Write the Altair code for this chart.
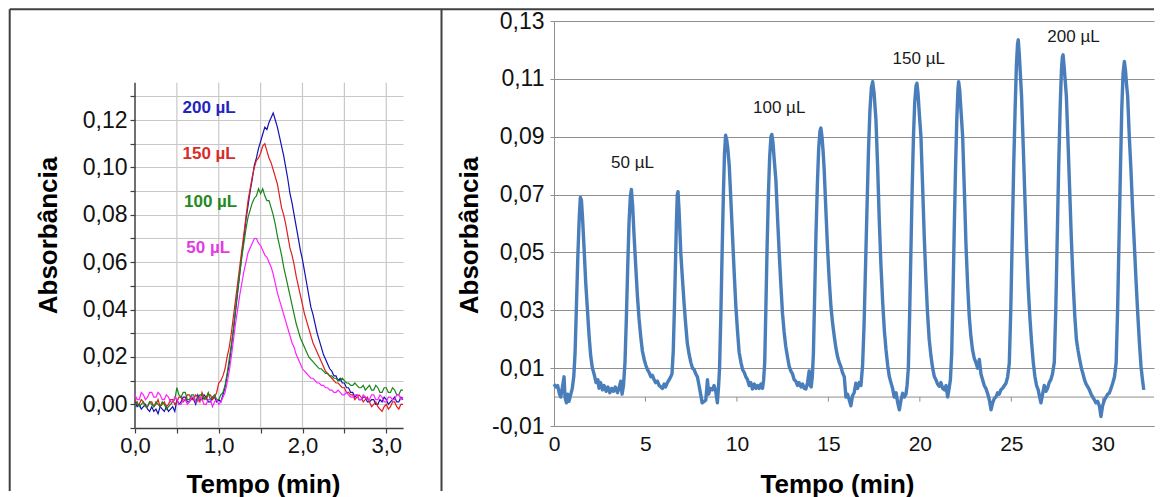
import altair as alt
import pandas as pd

FONT = "Arial"

# ---------------- Left panel: superimposed peaks ----------------
t_left = [0.000, 0.025, 0.050, 0.075, 0.100, 0.125, 0.150, 0.175,
          0.200, 0.225, 0.250, 0.275, 0.300, 0.325, 0.350, 0.375,
          0.400, 0.425, 0.450, 0.475, 0.500, 0.525, 0.550, 0.575,
          0.600, 0.625, 0.650, 0.675, 0.700, 0.725, 0.750, 0.775,
          0.800, 0.825, 0.850, 0.875, 0.900, 0.925, 0.950, 0.975,
          1.000, 1.025, 1.050, 1.075, 1.100, 1.125, 1.150, 1.175,
          1.200, 1.225, 1.250, 1.275, 1.300, 1.325, 1.350, 1.375,
          1.400, 1.425, 1.450, 1.475, 1.500, 1.525, 1.550, 1.575,
          1.600, 1.625, 1.650, 1.675, 1.700, 1.725, 1.750, 1.775,
          1.800, 1.825, 1.850, 1.875, 1.900, 1.925, 1.950, 1.975,
          2.000, 2.025, 2.050, 2.075, 2.100, 2.125, 2.150, 2.175,
          2.200, 2.225, 2.250, 2.275, 2.300, 2.325, 2.350, 2.375,
          2.400, 2.425, 2.450, 2.475, 2.500, 2.525, 2.550, 2.575,
          2.600, 2.625, 2.650, 2.675, 2.700, 2.725, 2.750, 2.775,
          2.800, 2.825, 2.850, 2.875, 2.900, 2.925, 2.950, 2.975,
          3.000, 3.025, 3.050, 3.075, 3.100, 3.125, 3.150, 3.175,
          3.200]

a_200 = [0.001, -0.001, 0.000, -0.002, -0.001, 0.000, -0.002, -0.003,
         -0.001, -0.003, -0.002, -0.004, -0.001, -0.002, -0.003, -0.001,
         -0.003, -0.002, -0.001, -0.003, 0.002, 0.000, 0.001, 0.003,
         0.003, 0.001, 0.001, 0.003, 0.002, 0.000, 0.004, 0.002,
         0.002, 0.004, 0.003, 0.001, 0.001, 0.003, 0.003, 0.001,
         0.002, 0.001, 0.004, 0.007, 0.012, 0.017, 0.024, 0.031,
         0.039, 0.047, 0.055, 0.063, 0.070, 0.078, 0.084, 0.090,
         0.095, 0.101, 0.104, 0.108, 0.111, 0.114, 0.117, 0.116,
         0.119, 0.121, 0.123, 0.120, 0.117, 0.113, 0.109, 0.105,
         0.100, 0.095, 0.089, 0.085, 0.080, 0.075, 0.070, 0.065,
         0.061, 0.056, 0.051, 0.046, 0.041, 0.038, 0.034, 0.030,
         0.027, 0.024, 0.021, 0.019, 0.017, 0.015, 0.014, 0.012,
         0.012, 0.010, 0.011, 0.009, 0.009, 0.007, 0.007, 0.005,
         0.005, 0.003, 0.004, 0.002, 0.002, 0.003, 0.003, 0.001,
         0.001, 0.002, 0.002, 0.000, 0.000, 0.002, 0.001, 0.003,
         0.002, 0.000, 0.001, 0.002, 0.003, 0.001, 0.001, 0.003,
         0.002]

a_150 = [0.002, 0.000, 0.000, 0.002, 0.001, -0.001, -0.001, 0.001,
         0.001, -0.001, 0.000, 0.002, -0.001, 0.000, 0.001, -0.001,
         0.000, 0.002, 0.002, 0.000, 0.001, 0.003, 0.003, 0.001,
         0.002, 0.004, 0.004, 0.002, 0.002, 0.004, 0.003, 0.001,
         0.005, 0.003, 0.002, 0.004, 0.004, 0.002, 0.003, 0.005,
         0.009, 0.010, 0.012, 0.015, 0.020, 0.024, 0.030, 0.037,
         0.044, 0.051, 0.058, 0.065, 0.072, 0.079, 0.086, 0.091,
         0.096, 0.100, 0.103, 0.104, 0.106, 0.109, 0.110, 0.107,
         0.104, 0.102, 0.099, 0.096, 0.093, 0.088, 0.083, 0.080,
         0.076, 0.071, 0.066, 0.063, 0.059, 0.054, 0.050, 0.046,
         0.042, 0.038, 0.035, 0.032, 0.029, 0.026, 0.024, 0.022,
         0.020, 0.018, 0.016, 0.014, 0.013, 0.012, 0.011, 0.010,
         0.009, 0.009, 0.008, 0.007, 0.007, 0.005, 0.005, 0.004,
         0.004, 0.002, 0.003, 0.004, 0.003, 0.001, 0.002, 0.003,
         0.001, -0.001, 0.000, 0.001, -0.001, -0.002, -0.003, -0.001,
         0.000, -0.002, -0.001, 0.001, 0.001, -0.001, -0.002, 0.000,
         0.000]

a_100 = [0.000, 0.001, -0.001, 0.000, 0.001, -0.001, -0.001, 0.001,
         0.000, -0.001, 0.001, 0.000, -0.001, 0.001, 0.000, -0.002,
         -0.001, 0.000, 0.001, 0.002, 0.007, 0.004, 0.003, 0.005,
         0.005, 0.002, 0.002, 0.004, 0.004, 0.001, 0.002, 0.004,
         0.004, 0.002, 0.003, 0.005, 0.002, 0.003, 0.004, 0.002,
         0.002, 0.004, 0.005, 0.008, 0.013, 0.019, 0.025, 0.032,
         0.040, 0.048, 0.055, 0.062, 0.068, 0.074, 0.079, 0.082,
         0.085, 0.087, 0.088, 0.091, 0.089, 0.091, 0.088, 0.086,
         0.086, 0.083, 0.080, 0.076, 0.071, 0.067, 0.063, 0.058,
         0.054, 0.050, 0.046, 0.042, 0.038, 0.034, 0.031, 0.028,
         0.026, 0.024, 0.022, 0.020, 0.019, 0.018, 0.017, 0.016,
         0.015, 0.015, 0.014, 0.013, 0.013, 0.012, 0.012, 0.011,
         0.011, 0.010, 0.010, 0.011, 0.010, 0.009, 0.009, 0.008,
         0.008, 0.009, 0.008, 0.007, 0.007, 0.008, 0.006, 0.007,
         0.008, 0.006, 0.006, 0.008, 0.007, 0.005, 0.005, 0.007,
         0.007, 0.005, 0.005, 0.007, 0.006, 0.004, 0.004, 0.006,
         0.006]

a_50 = [0.004, 0.002, 0.002, 0.005, 0.004, 0.002, 0.003, 0.005,
        0.005, 0.003, 0.003, 0.005, 0.004, 0.002, 0.002, 0.004,
        0.003, 0.001, 0.001, 0.003, 0.002, 0.000, 0.000, 0.002,
        0.002, 0.000, 0.001, 0.003, 0.003, 0.001, 0.001, 0.003,
        0.002, 0.000, 0.000, 0.002, 0.002, -0.001, 0.001, 0.002,
        0.000, 0.001, 0.003, 0.005, 0.009, 0.014, 0.020, 0.027,
        0.034, 0.040, 0.046, 0.051, 0.056, 0.060, 0.064, 0.066,
        0.068, 0.070, 0.070, 0.068, 0.067, 0.065, 0.063, 0.062,
        0.060, 0.058, 0.055, 0.051, 0.047, 0.044, 0.041, 0.038,
        0.035, 0.032, 0.029, 0.026, 0.024, 0.021, 0.019, 0.017,
        0.015, 0.014, 0.013, 0.012, 0.011, 0.011, 0.010, 0.009,
        0.009, 0.008, 0.008, 0.007, 0.007, 0.006, 0.006, 0.005,
        0.005, 0.006, 0.005, 0.004, 0.004, 0.005, 0.004, 0.003,
        0.003, 0.004, 0.004, 0.002, 0.002, 0.004, 0.003, 0.002,
        0.002, 0.004, 0.004, 0.002, 0.002, 0.004, 0.003, 0.001,
        0.001, 0.003, 0.003, 0.002, 0.002, 0.004, 0.004, 0.002,
        0.003]

left_series = [a_200, a_150, a_100, a_50]
left_colors = ["#1212b4", "#e01e1e", "#1a841a", "#ff22ff"]
left_labels = ["200 µL", "150 µL", "100 µL", "50 µL"]
left_label_t = [0.885, 0.885, 0.903, 0.874]
left_label_a = [0.1252, 0.1055, 0.0854, 0.0661]
left_label_colors = ["#2424c0", "#d62c2c", "#238a23", "#e23be2"]

left_tick_y = [-0.01, 0.00, 0.01, 0.02, 0.03, 0.04, 0.05, 0.06, 0.07,
               0.08, 0.09, 0.10, 0.11, 0.12, 0.13]
left_label_y = ["0.00", "0.02", "0.04", "0.06", "0.08", "0.10", "0.12"]
left_tick_x = [0.0, 0.5, 1.0, 1.5, 2.0, 2.5, 3.0]
left_grid_x = [0.5, 1.0, 1.5, 2.0, 2.5, 3.0]
left_y_top = 0.1357

# ---------------- Right panel: sequence of injections ----------------
trace = [
    (0.00, 0.0045), (0.10, 0.0035), (0.20, 0.0040), (0.30, 0.0010), (0.37, 0.0000),
    (0.45, 0.0030), (0.55, 0.0070), (0.60, 0.0000), (0.68, -0.0020), (0.75, 0.0010),
    (0.82, -0.0015), (0.92, 0.0010), (1.00, 0.0030), (1.08, 0.0070),
    # 50 uL #1
    (1.15, 0.0150), (1.22, 0.0300), (1.30, 0.0480), (1.38, 0.0620), (1.44, 0.0690),
    (1.50, 0.0680), (1.56, 0.0620), (1.64, 0.0520), (1.73, 0.0400), (1.83, 0.0300),
    (1.92, 0.0210), (2.01, 0.0140), (2.10, 0.0100), (2.19, 0.0080), (2.30, 0.0050),
    (2.40, 0.0060), (2.46, 0.0030), (2.55, 0.0050), (2.65, 0.0025), (2.74, 0.0040),
    (2.85, 0.0020), (2.95, 0.0035), (3.05, 0.0015), (3.15, 0.0030), (3.25, 0.0020),
    (3.35, 0.0035), (3.47, 0.0015), (3.55, 0.0030), (3.65, 0.0055), (3.72, 0.0010),
    (3.80, 0.0040),
    # 50 uL #2
    (3.88, 0.0120), (3.95, 0.0260), (4.03, 0.0450), (4.10, 0.0600), (4.17, 0.0690),
    (4.23, 0.0718), (4.30, 0.0660), (4.38, 0.0555), (4.47, 0.0450), (4.56, 0.0350),
    (4.65, 0.0270), (4.74, 0.0210), (4.83, 0.0160), (4.93, 0.0130), (5.02, 0.0110),
    (5.11, 0.0095), (5.20, 0.0085), (5.30, 0.0070), (5.38, 0.0075), (5.47, 0.0060),
    (5.56, 0.0050), (5.65, 0.0055), (5.75, 0.0040), (5.84, 0.0035), (5.93, 0.0030),
    (6.02, 0.0045), (6.10, 0.0035), (6.20, 0.0050), (6.30, 0.0060), (6.38, 0.0070),
    (6.45, 0.0080),
    # 50 uL #3
    (6.52, 0.0160), (6.58, 0.0300), (6.64, 0.0460), (6.69, 0.0600), (6.74, 0.0700),
    (6.78, 0.0710), (6.84, 0.0640), (6.93, 0.0500), (7.02, 0.0410), (7.11, 0.0325),
    (7.20, 0.0250), (7.29, 0.0185), (7.38, 0.0150), (7.48, 0.0120), (7.57, 0.0100),
    (7.66, 0.0095), (7.75, 0.0080), (7.84, 0.0070), (7.93, 0.0040), (8.03, 0.0005),
    (8.10, -0.0020), (8.21, -0.0015), (8.30, -0.0010), (8.39, 0.0060), (8.45, 0.0010),
    (8.55, 0.0030), (8.66, 0.0025), (8.75, 0.0040), (8.84, 0.0020), (8.93, -0.0020),
    (9.00, 0.0040),
    # 100 uL #1
    (9.05, 0.0100), (9.12, 0.0280), (9.19, 0.0500), (9.26, 0.0700), (9.32, 0.0840),
    (9.38, 0.0905), (9.44, 0.0890), (9.50, 0.0860), (9.58, 0.0800), (9.67, 0.0680),
    (9.76, 0.0555), (9.85, 0.0430), (9.94, 0.0315), (10.03, 0.0230), (10.12, 0.0155),
    (10.22, 0.0120), (10.31, 0.0095), (10.40, 0.0085), (10.49, 0.0070), (10.58, 0.0060),
    (10.67, 0.0040), (10.76, 0.0050), (10.85, 0.0028), (10.95, 0.0045), (11.04, 0.0030),
    (11.13, 0.0040), (11.22, 0.0030), (11.31, 0.0045), (11.40, 0.0030), (11.46, 0.0060),
    # 100 uL #2
    (11.52, 0.0120), (11.58, 0.0300), (11.65, 0.0520), (11.72, 0.0700), (11.79, 0.0830),
    (11.86, 0.0900), (11.91, 0.0908), (11.97, 0.0880), (12.04, 0.0820), (12.13, 0.0750),
    (12.22, 0.0620), (12.31, 0.0500), (12.40, 0.0390), (12.49, 0.0290), (12.58, 0.0225),
    (12.67, 0.0175), (12.76, 0.0140), (12.86, 0.0105), (12.95, 0.0090), (13.04, 0.0080),
    (13.13, 0.0060), (13.22, 0.0055), (13.31, 0.0040), (13.40, 0.0050), (13.50, 0.0035),
    (13.59, 0.0045), (13.68, 0.0030), (13.77, 0.0028), (13.86, 0.0050), (13.95, 0.0090),
    (14.00, 0.0040), (14.06, 0.0035), (14.12, 0.0070),
    # 100 uL #3
    (14.18, 0.0150), (14.25, 0.0350), (14.32, 0.0560), (14.40, 0.0740), (14.47, 0.0860),
    (14.54, 0.0920), (14.59, 0.0930), (14.65, 0.0900), (14.71, 0.0850), (14.77, 0.0786),
    (14.86, 0.0650), (14.95, 0.0520), (15.04, 0.0410), (15.14, 0.0313), (15.23, 0.0255),
    (15.32, 0.0210), (15.41, 0.0170), (15.50, 0.0140), (15.59, 0.0120), (15.68, 0.0106),
    (15.77, 0.0085), (15.87, 0.0070), (15.92, 0.0030), (15.96, 0.0000), (16.05, 0.0010),
    (16.14, -0.0010), (16.23, -0.0030), (16.32, 0.0005), (16.41, 0.0015), (16.50, 0.0048),
    (16.60, 0.0030), (16.69, 0.0050), (16.78, 0.0040), (16.87, 0.0110),
    # 150 uL #1
    (16.95, 0.0250), (17.03, 0.0450), (17.11, 0.0650), (17.19, 0.0850), (17.27, 0.0990),
    (17.35, 0.1070), (17.42, 0.1090), (17.50, 0.1050), (17.60, 0.0958), (17.69, 0.0800),
    (17.78, 0.0613), (17.87, 0.0460), (17.97, 0.0325), (18.06, 0.0230), (18.15, 0.0163),
    (18.24, 0.0110), (18.33, 0.0071), (18.42, 0.0050), (18.51, 0.0030), (18.60, 0.0000),
    (18.70, 0.0015), (18.79, -0.0020), (18.88, -0.0044), (18.97, -0.0010), (19.06, 0.0013),
    (19.15, 0.0000), (19.24, 0.0010), (19.30, 0.0040),
    # 150 uL #2
    (19.37, 0.0100), (19.44, 0.0280), (19.51, 0.0500), (19.58, 0.0720), (19.65, 0.0900),
    (19.72, 0.1020), (19.79, 0.1075), (19.84, 0.1085), (19.90, 0.1050), (19.97, 0.0980),
    (20.06, 0.0900), (20.15, 0.0730), (20.24, 0.0555), (20.33, 0.0410), (20.42, 0.0290),
    (20.51, 0.0200), (20.61, 0.0140), (20.70, 0.0100), (20.79, 0.0071), (20.88, 0.0060),
    (20.97, 0.0045), (21.06, 0.0037), (21.15, 0.0050), (21.25, 0.0030), (21.34, 0.0025),
    (21.43, 0.0040), (21.52, 0.0000), (21.60, 0.0030), (21.67, 0.0060),
    # 150 uL #3
    (21.74, 0.0150), (21.81, 0.0350), (21.88, 0.0580), (21.95, 0.0790), (22.02, 0.0960),
    (22.08, 0.1060), (22.12, 0.1090), (22.18, 0.1060), (22.26, 0.0980), (22.34, 0.0900),
    (22.43, 0.0720), (22.52, 0.0530), (22.61, 0.0390), (22.70, 0.0279), (22.79, 0.0210),
    (22.88, 0.0163), (22.97, 0.0135), (23.07, 0.0118), (23.16, 0.0100), (23.25, 0.0130),
    (23.34, 0.0080), (23.43, 0.0060), (23.52, 0.0040), (23.61, 0.0030), (23.70, 0.0013),
    (23.80, -0.0010), (23.89, -0.0044), (23.98, -0.0020), (24.07, -0.0005), (24.16, 0.0000),
    (24.25, 0.0015), (24.34, 0.0010), (24.43, 0.0025), (24.52, 0.0030), (24.62, 0.0040),
    (24.71, 0.0048), (24.80, 0.0070), (24.89, 0.0118),
    # 200 uL #1
    (24.97, 0.0300), (25.05, 0.0550), (25.13, 0.0800), (25.21, 0.1000), (25.28, 0.1150),
    (25.34, 0.1220), (25.38, 0.1235), (25.44, 0.1180), (25.50, 0.1110), (25.56, 0.1040),
    (25.65, 0.0870), (25.74, 0.0693), (25.83, 0.0520), (25.93, 0.0371), (26.02, 0.0270),
    (26.11, 0.0187), (26.20, 0.0120), (26.29, 0.0071), (26.38, 0.0040), (26.47, 0.0025),
    (26.55, 0.0000), (26.62, -0.0020), (26.71, 0.0010), (26.80, 0.0040), (26.89, 0.0020),
    (26.98, 0.0030), (27.07, 0.0050), (27.16, 0.0060), (27.25, 0.0080), (27.35, 0.0120),
    # 200 uL #2
    (27.43, 0.0300), (27.51, 0.0550), (27.59, 0.0800), (27.67, 0.1000), (27.74, 0.1130),
    (27.79, 0.1175), (27.83, 0.1183), (27.89, 0.1140), (27.95, 0.1090), (28.01, 0.1040),
    (28.10, 0.0880), (28.19, 0.0717), (28.28, 0.0550), (28.38, 0.0394), (28.47, 0.0280),
    (28.56, 0.0198), (28.65, 0.0160), (28.74, 0.0129), (28.83, 0.0100), (28.92, 0.0080),
    (29.00, 0.0060), (29.09, 0.0045), (29.18, 0.0035), (29.27, 0.0025), (29.36, 0.0010),
    (29.45, 0.0000), (29.54, -0.0010), (29.63, -0.0020), (29.72, -0.0015), (29.82, -0.0032),
    (29.90, -0.0067), (29.99, -0.0030), (30.09, -0.0010), (30.18, 0.0000), (30.27, 0.0010),
    (30.36, 0.0014), (30.45, 0.0030), (30.54, 0.0048), (30.64, 0.0070), (30.73, 0.0118),
    # 200 uL #3
    (30.81, 0.0300), (30.89, 0.0550), (30.97, 0.0800), (31.04, 0.1000), (31.11, 0.1120),
    (31.18, 0.1160), (31.24, 0.1130), (31.30, 0.1080), (31.36, 0.1040), (31.45, 0.0900),
    (31.54, 0.0786), (31.63, 0.0650), (31.73, 0.0520), (31.82, 0.0400), (31.91, 0.0290),
    (32.00, 0.0190), (32.09, 0.0106), (32.17, 0.0060), (32.24, 0.0025),
]

right_labels = ["50 µL", "100 µL", "150 µL", "200 µL"]
right_label_t = [4.29, 12.31, 19.94, 28.40]
right_label_a = [0.0809, 0.0999, 0.1169, 0.1244]
right_tick_y = [-0.01, 0.01, 0.03, 0.05, 0.07, 0.09, 0.11, 0.13]
right_tick_x = [0, 5, 10, 15, 20, 25, 30]
right_minor_x = [5, 10, 15, 20, 25, 30]

LINE_BLUE = "#4a7ebb"
AX_DARK = "#404040"
GRID_L = "#c8c8c8"
GRID_R = "#8f8f8f"

label_list = "[" + ", ".join("'" + s + "'" for s in left_label_y) + "]"

# ---------------- Left chart ----------------
xL = alt.X("t:Q", scale=alt.Scale(domain=[0, 3.2], nice=False, zero=False),
           axis=alt.Axis(values=left_tick_x, tickCount=20,
                         labelExpr="datum.value % 1 == 0 ? replace(format(datum.value, '.1f'), '.', ',') : ''",
                         grid=False, domainColor=AX_DARK, domainWidth=1.5,
                         tickColor=AX_DARK, tickWidth=1.2, tickSize=5,
                         labelFontSize=22, labelColor="#111111", labelPadding=2,
                         labelFlush=False, labelOverlap=False,
                         title="Tempo (min)", titleFontSize=26, titleFontWeight="bold",
                         titleColor="#000000", titleX=128, titleY=64,
                         titleBaseline="alphabetic"))
yL = alt.Y("a:Q", scale=alt.Scale(domain=[-0.01, 0.1618], nice=False, zero=False),
           axis=alt.Axis(values=left_tick_y, tickCount=40,
                         labelExpr="indexof(" + label_list + ", format(datum.value, '.2f')) >= 0 ? replace(format(datum.value, '.2f'), '.', ',') : ''",
                         grid=True, gridColor=GRID_L, gridWidth=1.2, domain=False,
                         tickColor=AX_DARK, tickWidth=1.2, tickSize=5,
                         labelFontSize=23, labelColor="#111111", labelPadding=3,
                         labelFlush=False, labelOverlap=False,
                         title="Absorbância", titleFontSize=26, titleFontWeight="bold",
                         titleColor="#000000", titleAngle=-90, titleX=-87, titleY=214,
                         titleBaseline="middle", titleAlign="center"))

one = pd.DataFrame({"k": [0]})

left_layers = []
left_layers.append(
    alt.Chart(pd.DataFrame({"t": left_grid_x})).mark_rule(color=GRID_L, strokeWidth=1.2)
    .encode(x=xL, y=alt.datum(-0.01), y2=alt.datum(left_y_top)))
left_layers.append(
    alt.Chart(one).mark_rule(color=AX_DARK, strokeWidth=1.5)
    .encode(x=alt.datum(0), y=alt.datum(-0.01), y2=alt.datum(left_y_top)))
for vals, col in zip(left_series, left_colors):
    left_layers.append(
        alt.Chart(pd.DataFrame({"t": t_left, "a": vals}))
        .mark_line(color=col, strokeWidth=1.2)
        .encode(x=xL, y=yL))
left_layers.append(
    alt.Chart(pd.DataFrame({"t": left_label_t, "a": left_label_a,
                            "lab": left_labels, "col": left_label_colors}))
    .mark_text(fontSize=17, fontWeight="bold", align="center", baseline="middle", font=FONT)
    .encode(x=xL, y=yL, text="lab:N", color=alt.Color("col:N", scale=None)))
# table frame (decoration)
left_layers.append(alt.Chart(one).mark_rule(color=AX_DARK, strokeWidth=2)
                   .encode(x=alt.value(-125.3), x2=alt.value(1019), y=alt.value(-11.7)))
left_layers.append(alt.Chart(one).mark_rule(color=AX_DARK, strokeWidth=2)
                   .encode(x=alt.value(-125.3), y=alt.value(-11.7), y2=alt.value(470)))
left_layers.append(alt.Chart(one).mark_rule(color=AX_DARK, strokeWidth=2)
                   .encode(x=alt.value(306.5), y=alt.value(-11.7), y2=alt.value(470)))

left = alt.layer(*left_layers).properties(width=268, height=407)

# ---------------- Right chart ----------------
xR = alt.X("t:Q", scale=alt.Scale(domain=[0, 32.8], nice=False, zero=False),
           axis=alt.Axis(values=right_tick_x, tickCount=20, format="d", grid=False, ticks=False,
                         domainColor=GRID_R, domainWidth=1,
                         labelFontSize=21, labelColor="#111111", labelPadding=7,
                         labelFlush=False, labelOverlap=False,
                         title="Tempo (min)", titleFontSize=26, titleFontWeight="bold",
                         titleColor="#000000", titleX=283, titleY=66,
                         titleBaseline="alphabetic"))
yR = alt.Y("a:Q", scale=alt.Scale(domain=[-0.01, 0.13], nice=False, zero=False),
           axis=alt.Axis(values=right_tick_y, tickCount=20,
                         labelExpr="(datum.value < 0 ? '-' : '') + replace(format(abs(datum.value), '.2f'), '.', ',')",
                         grid=True, gridColor=GRID_R, gridWidth=1,
                         domainColor=GRID_R, domainWidth=1,
                         tickColor=GRID_R, tickSize=4,
                         labelFontSize=23, labelColor="#111111", labelPadding=6,
                         labelFlush=False, labelOverlap=False,
                         title="Absorbância", titleFontSize=26, titleFontWeight="bold",
                         titleColor="#000000", titleAngle=-90, titleX=-85, titleY=214,
                         titleBaseline="middle", titleAlign="center"))

right_df = pd.DataFrame(trace, columns=["t", "a"])

right_layers = [
    alt.Chart(one).mark_rule(color=GRID_R, strokeWidth=1).encode(y=alt.datum(0)),
    alt.Chart(pd.DataFrame({"t": right_minor_x})).mark_rule(color=GRID_R, strokeWidth=1)
    .encode(x=xR, y=alt.datum(0), y2=alt.datum(-0.0016)),
    alt.Chart(right_df).mark_line(color=LINE_BLUE, strokeWidth=3.4, strokeJoin="round")
    .encode(x=xR, y=yR),
    alt.Chart(pd.DataFrame({"t": right_label_t, "a": right_label_a, "lab": right_labels}))
    .mark_text(fontSize=17, color="#1a1a1a", align="center", baseline="middle", font=FONT)
    .encode(x=xR, y=yR, text="lab:N"),
]
right = alt.layer(*right_layers).properties(width=600, height=405)

chart = (alt.hconcat(left, right, spacing=151, bounds="flush")
         .properties(padding=0, background="white")
         .configure(font=FONT)
         .configure_view(stroke=None))

chart.save("out.html", embed_options={"renderer": "svg", "actions": False})
